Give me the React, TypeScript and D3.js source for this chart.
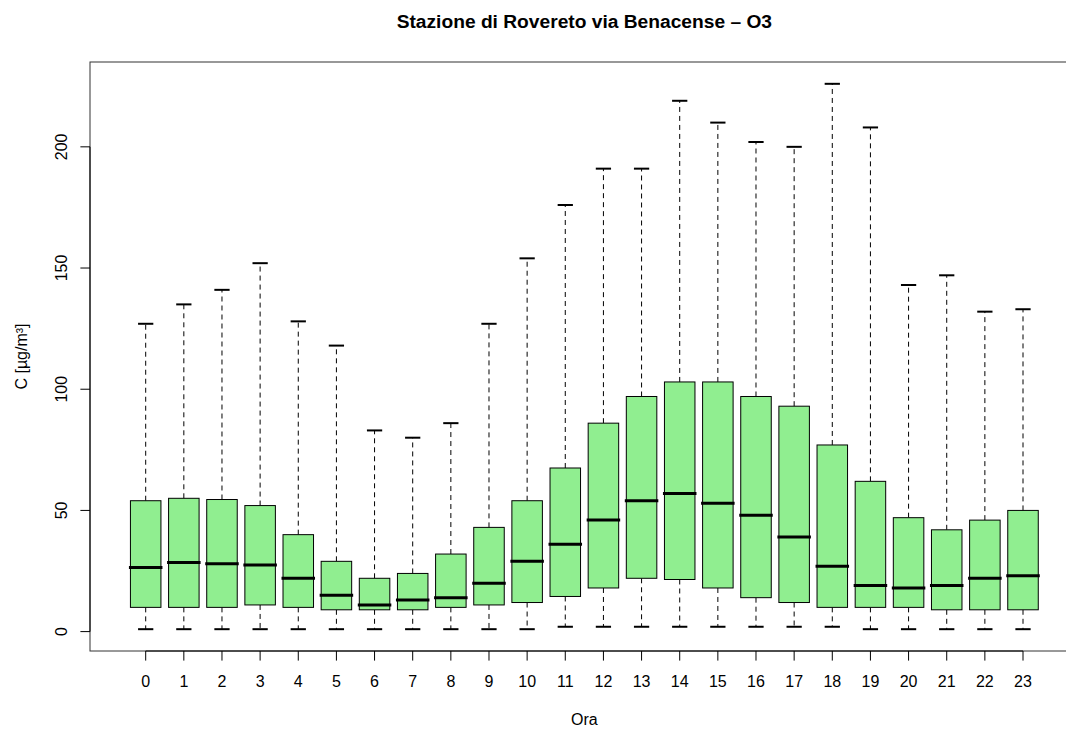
import React from "react";
import * as d3 from "d3";

const hours = ["0","1","2","3","4","5","6","7","8","9","10","11","12","13","14","15","16","17","18","19","20","21","22","23"];
const lowerWhisker = [1,1,1,1,1,1,1,1,1,1,1,2,2,2,2,2,2,2,2,1,1,1,1,1];
const q1 = [10,10,10,11,10,9,9,9,10,11,12,14.5,18,22,21.5,18,14,12,10,10,10,9,9,9];
const median = [26.5,28.5,28,27.5,22,15,11,13,14,20,29,36,46,54,57,53,48,39,27,19,18,19,22,23];
const q3 = [54,55,54.5,52,40,29,22,24,32,43,54,67.5,86,97,103,103,97,93,77,62,47,42,46,50];
const upperWhisker = [127,135,141,152,128,118,83,80,86,127,154,176,191,191,219,210,202,200,226,208,143,147,132,133];
const yTicks = [0,50,100,150,200];

const W = 1066, H = 729;
const L = 90, R = 1078.7, T = 62, B = 651;

export default function App() {
  const n = hours.length;
  const x = d3.scaleLinear().domain([0.5 - 0.04 * n, n + 0.5 + 0.04 * n]).range([L, R]);
  const yMin = d3.min(lowerWhisker)!, yMax = d3.max(upperWhisker)!;
  const pad = (yMax - yMin) * 0.04;
  const y = d3.scaleLinear().domain([yMin - pad, yMax + pad]).range([B, T]);
  const step = x(2) - x(1);
  const bw = step * 0.8;
  const cw = bw * 0.5;
  const font = "'Liberation Sans', Arial, Helvetica, sans-serif";

  return (
    <svg width={W} height={H} style={{ position: "absolute", left: 0, top: 0, background: "#fff" }} fontFamily={font}>
      <rect x={0} y={0} width={W} height={H} fill="#fff" />
      <text x={(L + R) / 2} y={27.5} textAnchor="middle" fontWeight="bold" fontSize={19.2}>
        Stazione di Rovereto via Benacense – O3
      </text>
      {hours.map((h, i) => {
        const cx = x(i + 1);
        return (
          <g key={h}>
            <line x1={cx} x2={cx} y1={y(q3[i])} y2={y(upperWhisker[i])} stroke="#000" strokeWidth={1} strokeDasharray="5 4" />
            <line x1={cx} x2={cx} y1={y(q1[i])} y2={y(lowerWhisker[i])} stroke="#000" strokeWidth={1} strokeDasharray="5 4" />
            <line x1={cx - cw / 2} x2={cx + cw / 2} y1={y(upperWhisker[i])} y2={y(upperWhisker[i])} stroke="#000" strokeWidth={2} />
            <line x1={cx - cw / 2} x2={cx + cw / 2} y1={y(lowerWhisker[i])} y2={y(lowerWhisker[i])} stroke="#000" strokeWidth={2} />
            <rect x={cx - bw / 2} y={y(q3[i])} width={bw} height={y(q1[i]) - y(q3[i])} fill="#90EE90" stroke="#000" strokeWidth={1} />
            <line x1={cx - bw / 2} x2={cx + bw / 2} y1={y(median[i])} y2={y(median[i])} stroke="#000" strokeWidth={3} strokeLinecap="square" />
          </g>
        );
      })}
      <rect x={L} y={T} width={R - L} height={B - T} fill="none" stroke="#333" strokeWidth={1} />
      <line x1={x(1)} x2={x(n)} y1={B} y2={B} stroke="#000" />
      {hours.map((h, i) => (
        <g key={"t" + h}>
          <line x1={x(i + 1)} x2={x(i + 1)} y1={B} y2={B + 9.6} stroke="#000" />
          <text x={x(i + 1)} y={687} textAnchor="middle" fontSize={16}>{h}</text>
        </g>
      ))}
      <line x1={L} x2={L} y1={y(yTicks[0])} y2={y(yTicks[yTicks.length - 1])} stroke="#000" />
      {yTicks.map((t) => (
        <g key={"y" + t}>
          <line x1={L - 9.6} x2={L} y1={y(t)} y2={y(t)} stroke="#000" />
          <text transform={`translate(67,${y(t)}) rotate(-90)`} textAnchor="middle" fontSize={16}>{t}</text>
        </g>
      ))}
      <text x={(L + R) / 2} y={725} textAnchor="middle" fontSize={16}>Ora</text>
      <text transform={`translate(27,${(T + B) / 2}) rotate(-90)`} textAnchor="middle" fontSize={16}>C [µg/m³]</text>
    </svg>
  );
}
